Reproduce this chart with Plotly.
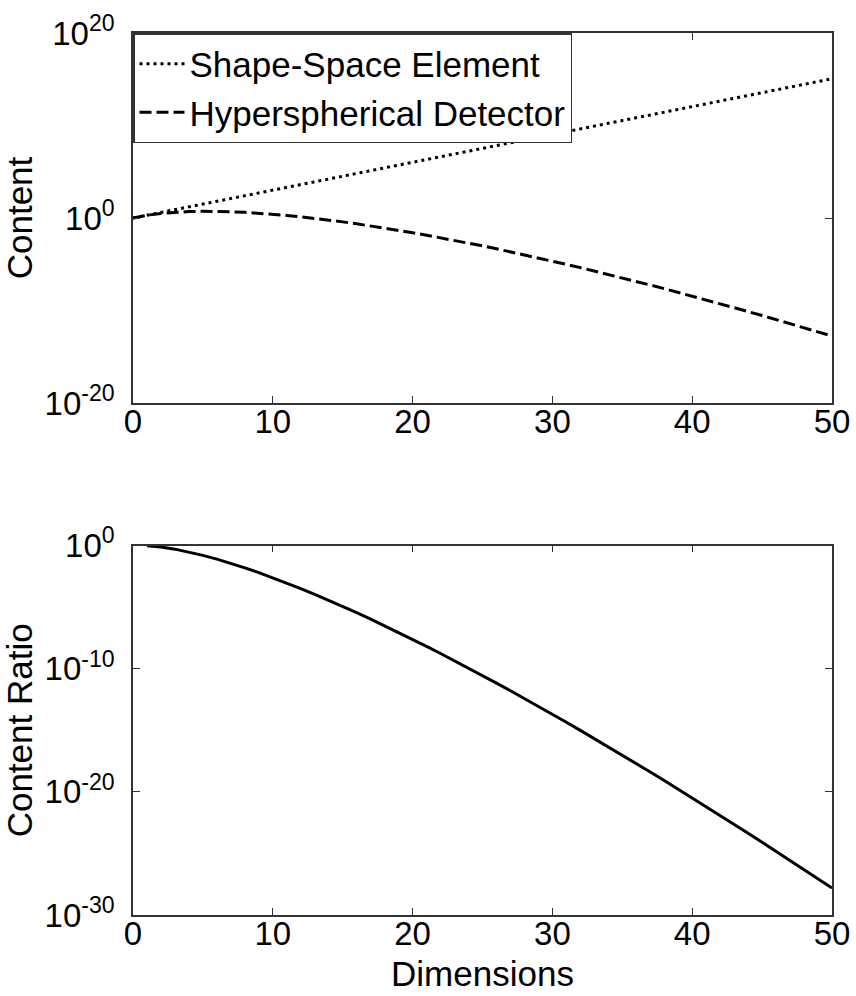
import plotly.graph_objects as go

# ---- data ----
dims_top = list(range(0, 51))
shape_space = [1, 2, 4, 8, 16, 32, 64, 128, 256, 512,
               1.02e3, 2.05e3, 4.10e3, 8.19e3, 1.64e4, 3.28e4, 6.55e4, 1.31e5, 2.62e5, 5.24e5,
               1.05e6, 2.10e6, 4.19e6, 8.39e6, 1.68e7, 3.36e7, 6.71e7, 1.34e8, 2.68e8, 5.37e8,
               1.07e9, 2.15e9, 4.29e9, 8.59e9, 1.72e10, 3.44e10, 6.87e10, 1.37e11, 2.75e11, 5.50e11,
               1.10e12, 2.20e12, 4.40e12, 8.80e12, 1.76e13, 3.52e13, 7.04e13, 1.41e14, 2.81e14, 5.63e14,
               1.13e15]
hypersphere = [1, 2, 3.14, 4.19, 4.93, 5.26, 5.17, 4.72, 4.06, 3.30,
               2.55, 1.88, 1.34, 0.911, 0.599, 0.381, 0.235, 0.141, 0.0822, 0.0466,
               0.0258, 1.39e-2, 7.37e-3, 3.81e-3, 1.93e-3, 9.58e-4, 4.66e-4, 2.23e-4, 1.05e-4, 4.83e-5,
               2.19e-5, 9.79e-6, 4.30e-6, 1.86e-6, 7.96e-7, 3.35e-7, 1.39e-7, 5.68e-8, 2.30e-8, 9.15e-9,
               3.61e-9, 1.40e-9, 5.39e-10, 2.05e-10, 7.70e-11, 2.86e-11, 1.05e-11, 3.83e-12, 1.38e-12, 4.91e-13,
               1.73e-13]
dims_bottom = list(range(1, 51))
content_ratio = [1, 0.785, 0.524, 0.308, 0.164, 0.0807, 0.0369, 0.0159, 6.44e-3, 2.49e-3,
                 9.20e-4, 3.26e-4, 1.11e-4, 3.66e-5, 1.16e-5, 3.59e-6, 1.08e-6, 3.13e-7, 8.89e-8, 2.46e-8,
                 6.65e-9, 1.76e-9, 4.54e-10, 1.15e-10, 2.85e-11, 6.95e-12, 1.66e-12, 3.90e-13, 8.99e-14, 2.04e-14,
                 4.56e-15, 1.00e-15, 2.17e-16, 4.63e-17, 9.74e-18, 2.02e-18, 4.13e-19, 8.35e-20, 1.66e-20, 3.28e-21,
                 6.38e-22, 1.23e-22, 2.33e-23, 4.38e-24, 8.13e-25, 1.49e-25, 2.72e-26, 4.89e-27, 8.71e-28, 1.54e-28]

x_ticks = [0, 10, 20, 30, 40, 50]
top_y_tickvals = [1e-20, 1, 1e20]
top_y_ticktext = ["-20", "0", "20"]
bot_y_tickvals = [1e-30, 1e-20, 1e-10, 1]
bot_y_ticktext = ["-30", "-20", "-10", "0"]


def sup_labels(exps):
    return ["10<sup>%s</sup>" % e for e in exps]


FONT = "Liberation Sans, Arial, sans-serif"
W, H = 856, 996
xl, xr = 133 / W, 832 / W
top_dom = [1 - 403 / H, 1 - 33 / H]
bot_dom = [1 - 915 / H, 1 - 545.7 / H]

fig = go.Figure()
fig.add_trace(go.Scatter(x=dims_top, y=shape_space, mode="lines", name="Shape-Space Element",
                         line=dict(color="black", width=3, dash="3px,4px"),
                         xaxis="x", yaxis="y"))
fig.add_trace(go.Scatter(x=dims_top, y=hypersphere, mode="lines", name="Hyperspherical Detector",
                         line=dict(color="black", width=3, dash="12px,5px"),
                         xaxis="x", yaxis="y"))
fig.add_trace(go.Scatter(x=dims_bottom, y=content_ratio, mode="lines", showlegend=False,
                         line=dict(color="black", width=3),
                         xaxis="x2", yaxis="y2"))

axis_common = dict(showgrid=False, zeroline=False, showline=True, linecolor="#333333", linewidth=1.5,
                   ticks="inside", ticklen=7, tickcolor="#333333", mirror="allticks",
                   automargin=False,
                   tickfont=dict(family=FONT, size=33, color="black"))

fig.update_layout(
    width=W, height=H,
    margin=dict(l=0, r=0, t=0, b=0, autoexpand=False),
    paper_bgcolor="white", plot_bgcolor="white",
    font=dict(family=FONT, size=35, color="black"),
    xaxis=dict(domain=[xl, xr], anchor="y", range=[0, 50], tickvals=x_ticks,
               ticklabelstandoff=-11, **axis_common),
    yaxis=dict(domain=top_dom, anchor="x", type="log", range=[-20, 20],
               tickvals=top_y_tickvals, ticktext=sup_labels(top_y_ticktext),
               title=dict(text="Content", standoff=3, font=dict(family=FONT, size=35)),
               ticklabelstandoff=10, **axis_common),
    xaxis2=dict(domain=[xl, xr], anchor="y2", range=[0, 50], tickvals=x_ticks,
                ticklabelstandoff=-11,
                title=dict(text="Dimensions", standoff=10, font=dict(family=FONT, size=35)),
                **axis_common),
    yaxis2=dict(domain=bot_dom, anchor="x2", type="log", range=[-30, 0],
                tickvals=bot_y_tickvals, ticktext=sup_labels(bot_y_ticktext),
                title=dict(text="Content Ratio", standoff=3, font=dict(family=FONT, size=35)),
                ticklabelstandoff=10, **axis_common),
    legend=dict(x=xl, y=top_dom[1], xref="paper", yref="paper", xanchor="left", yanchor="top",
                bgcolor="white", bordercolor="#333333", borderwidth=1.5,
                font=dict(family=FONT, size=35, color="black"),
                itemwidth=45, tracegroupgap=0),
    showlegend=True,
)

fig.write_html("out.html", config={"displayModeBar": False},
               post_script="document.body.style.margin='0';document.body.style.overflow='hidden';")
